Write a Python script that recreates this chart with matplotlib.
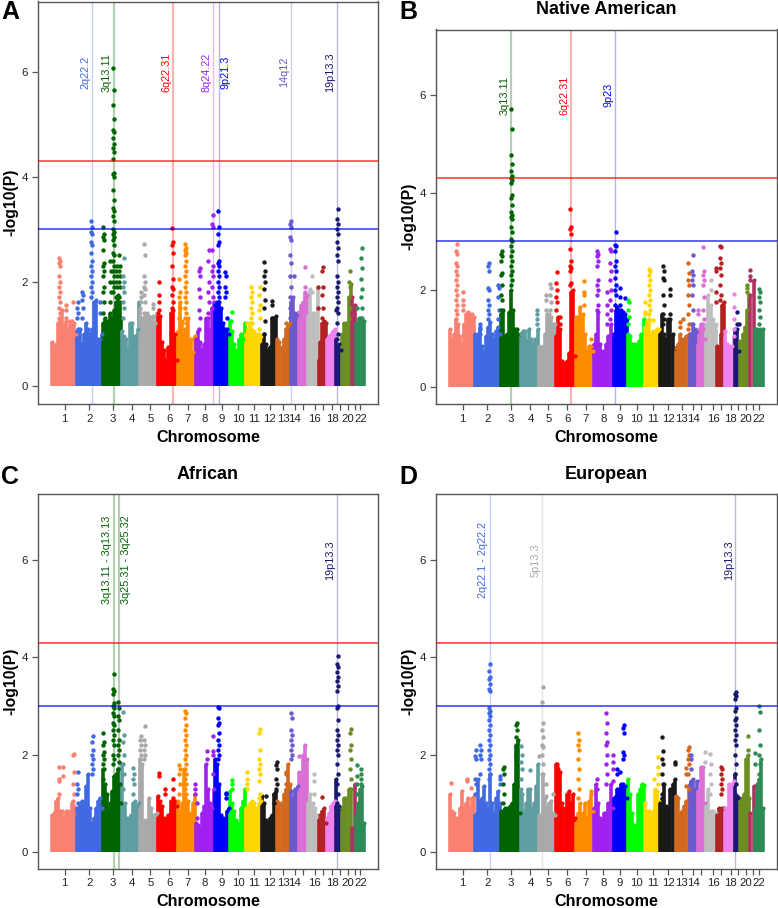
import matplotlib
matplotlib.use('Agg')
import matplotlib.pyplot as plt
import numpy as np

plt.rcParams['font.family'] = ['Liberation Sans', 'DejaVu Sans']

chrom_names = ['1', '2', '3', '4', '5', '6', '7', '8', '9', '10', '11', '12', '13', '14', '15', '16', '17', '18', '19', '20', '21', '22']
chrom_len = [75, 79, 59, 54, 52, 61, 53, 59, 43, 50, 46, 47, 42, 24, 25, 33, 25, 28, 17, 30, 13, 27]
chrom_ticks = [41, 115, 185, 244, 298, 355, 410, 463, 513, 563, 611, 657, 698, 732, 757, 792, 817, 845, 867, 891, 913, 929]
shown_ticks = ['1', '2', '3', '4', '5', '6', '7', '8', '9', '10', '11', '12', '13', '14', '', '16', '', '18', '', '20', '', '22']
chrom_colors = ['salmon', 'royalblue', 'darkgreen', 'cadetblue', 'darkgrey', 'red', 'darkorange', '#A020F0', 'blue', '#00FF00', 'gold',
                '#1A1A1A', 'chocolate', 'slateblue', 'orchid', '#BEBEBE', 'firebrick', 'violet', 'midnightblue', 'olivedrab', '#B03060', 'seagreen']

# dense part of each chromosome, left to right
a_heights = [
    [.85, .75, .8, 1.2, 1.3, 1.45, 1.15, 1.25, 1.1, 1.25, 1.25, 1.2, 1.0],
    [1.05, .9, 1.1, .8, 1.0, 1.2, 1.1, 1.0, 1.1, 1.6, 1.65, .9, .9, 1.0],
    [1.2, 1.3, 1.2, 1.25, 1.4, 1.3, 1.45, 1.6, 1.75, 1.6, 1.3],
    [1.05, .95, .9, .75, 1.2, 1.2, .95, .95, 1.1, 1.6],
    [1.5, 1.3, 1.35, 1.4, 1.35, 1.3, 1.35, 1.2, 1.4],
    [1.4, 1.35, .85, .7, .5, .75, 1.4, 1.45, 1.0, .5],
    [1.05, 1.6, 1.25, 1.0, 1.1, 1.3, .9, .65, .95],
    [.9, 1.05, .85, .7, .8, 1.3, 1.3, 1.1, 1.5, 1.6],
    [1.55, 1.6, 1.6, 1.5, 1.2, 1.1, 1.1, 1.0],
    [1.25, 1.05, .8, .7, .65, .9, 1.0, .9, 1.2],
    [1.0, 1.1, 1.2, 1.0, 1.05, 1.0, 1.0, .95],
    [.8, 1.0, .8, .7, .75, 1.3, 1.3, 1.35],
    [.9, .85, .75, .9, 1.1, 1.15, 1.2],
    [1.6, 1.7, 1.4, 1.3, 1.4],
    [1.3, 1.55, 1.6, 1.8, 1.75],
    [1.35, 1.85, 1.4, 1.4, 1.85],
    [.5, .85, 1.2, 1.25, 1.2],
    [.9, .95, 1.0, 1.05, 1.1],
    [.9, .8, .7],
    [1.0, 1.2, 1.2, 1.7, 1.95],
    [1.7, 1.55],
    [1.2, 1.3, 1.3, 1.25],
]
a_spike_pos = [24, 44, 67, 79, 96, 122, 147, 157, 180, 188, 198, 205, 219, 270, 282, 305, 323, 366, 387, 405, 446, 474, 486, 504, 524, 530, 541, 544,
               588, 601, 627, 642, 664, 707, 720, 730, 745, 762, 784, 802, 816, 855, 859, 896, 918, 932]
a_spike_vals = [
    [1.3, 1.4, 1.5, 1.6, 1.7, 1.8, 1.9, 2.0, 2.1, 2.3, 2.35, 2.4, 2.45], [1.3, 1.45, 1.55], [1.6],
    [.9, 1.1, 1.3, 1.4, 1.5, 1.6], [1.3, 1.5, 1.65, 1.75, 1.8],
    [1.7, 1.8, 1.9, 2.0, 2.1, 2.2, 2.3, 2.4, 2.55, 2.7, 2.75, 2.9, 2.95, 3.05, 3.15], [1.4, 1.6],
    [1.4, 1.6, 1.8, 1.9, 2.1, 2.2, 2.3, 2.35, 2.6, 2.8, 2.85, 2.9, 3.05],
    [1.6, 1.8, 2.0, 2.2, 2.4],
    [1.8, 1.9, 2.0, 2.1, 2.2, 2.3, 2.4, 2.5, 2.55, 2.7, 2.8, 2.85, 2.9, 2.95, 3.0, 3.15, 3.25, 3.35, 3.4, 3.55, 3.75, 4.0, 4.05, 4.08, 4.35, 4.48, 4.55,
     4.62, 4.75, 4.85, 4.9, 5.1, 5.38, 5.65, 6.07],
    [1.7, 1.9, 2.0, 2.1, 2.2, 2.3],
    [1.7, 1.9, 2.0, 2.1, 2.2, 2.3, 2.5], [1.3, 1.5, 1.6, 1.8, 1.9, 2.0, 2.1, 2.45], [1.6, 1.7, 1.8],
    [1.4, 1.6, 1.75, 1.85, 1.9, 2.0, 2.1, 2.5, 2.72], [1.5, 1.58], [1.45, 1.6, 1.75, 2.0],
    [1.5, 1.6, 1.75, 1.85, 1.9, 2.05, 2.3, 2.55, 2.7, 2.75, 3.03], [1.3, 1.5, 1.7, 1.8, 2.05],
    [1.1, 1.2, 1.3, 1.4, 1.5, 1.6, 1.7, 1.8, 1.9, 2.0, 2.1, 2.2, 2.3, 2.4, 2.5, 2.55, 2.6, 2.65, 2.72],
    [1.1, 1.3, 1.45, 1.7, 1.85, 2.1, 2.2, 2.25], [1.4, 1.6, 1.8, 2.0, 2.4, 2.6],
    [1.5, 1.7, 1.9, 2.1, 2.2, 2.3, 2.6, 3.05, 3.1, 3.28],
    [1.6, 1.7, 1.8, 1.9, 2.0, 2.1, 2.2, 2.3, 2.35, 2.4, 2.7, 2.75, 2.9, 3.05, 3.35], [1.7, 1.8, 1.9, 2.1, 2.18], [1.3], [1.25], [1.42],
    [1.2], [1.1, 1.2, 1.3, 1.4, 1.5, 1.6, 1.7, 1.8, 1.9], [1.1, 1.3, 1.45, 1.55, 1.75, 1.9],
    [1.0, 1.25, 1.5, 1.65, 1.85, 2.0, 2.1, 2.2, 2.38], [1.3, 1.55, 1.62], [1.1, 1.2],
    [1.3, 1.4, 1.5, 1.6, 1.7, 1.9, 2.1, 2.35, 2.5, 2.8, 2.85, 3.05, 3.1, 3.15], [2.1], [1.42], [1.9, 2.28], [1.8, 2.1], [1.5, 1.9],
    [1.3, 1.5, 1.75, 1.9, 2.2, 2.28], [1.45],
    [.9, 1.0, 1.2, 1.4, 1.5, 1.6, 1.7, 1.8, 1.9, 2.0, 2.1, 2.4, 2.5, 2.65, 2.75, 2.9, 3.0, 3.1, 3.2, 3.38],
    [1.3, 1.5, 1.7, 1.9, 2.0, 2.2], [1.5], [1.3, 1.5, 1.7, 1.85, 2.05, 2.25, 2.45, 2.65],
]

b_heights = [
    [1.2, 1.0, 1.1, 1.4, 1.3, 1.05, .9, 1.3, 1.5, 1.55, 1.5, 1.5, 1.45],
    [1.1, .85, 1.1, 1.25, .85, .75, 1.05, 1.25, 1.35, 1.1, 1.0, 1.15, 1.25, 1.1],
    [1.5, 1.6, 1.05, 1.1, 1.55, 2.0, 1.6, 1.2, 1.2, 1.1],
    [1.1, 1.15, 1.15, .95, 1.2, 1.0, .9, 1.0, 1.2],
    [.85, .8, .85, 1.1, 1.5, 1.5, 1.45, 1.3, 1.3],
    [1.05, 1.45, 1.2, .55, .5, .55, .7, 1.95, 2.0, .65],
    [1.45, 1.45, 1.65, 1.5, 1.1, .75, .85, .85, .75],
    [.9, 1.1, 1.55, .9, .75, .7, .9, 1.05, 1.3, 1.1],
    [1.1, 1.6, 1.65, 1.6, 1.6, 1.55, 1.5, 1.4],
    [1.1, 1.05, .9, .9, .85, .95, 1.1, 1.4],
    [1.25, 1.35, 1.4, 1.05, 1.15, 1.15, 1.2, 1.2],
    [1.1, 1.5, 1.1, 1.0, 1.4, 1.4, 1.1, .8],
    [.8, .9, 1.1, 1.0, 1.0, 1.05, 1.1],
    [1.1, 1.1, 1.3, 1.2, 1.15],
    [.9, 1.2, 1.3, 1.3, 1.0],
    [1.3, 1.9, 1.7, 1.4, 1.3],
    [.85, .8, 1.1, 1.7, 1.75],
    [1.15, .9, .85, .85, 1.05],
    [1.2, 1.2, .75],
    [.95, 1.1, 1.25, 1.6, 1.9],
    [1.9, 2.2],
    [1.2, 1.2, 1.2, 1.2],
]
b_spike_pos = [23, 43, 94, 118, 147, 156, 187, 264, 292, 304, 322, 332, 365, 406, 425, 445, 473, 485, 499, 514, 529, 539, 587, 600, 613, 642, 662,
               692, 702, 719, 730, 747, 762, 785, 802, 815, 854, 863, 870, 895, 903, 932]
b_spike_vals = [
    [1.4, 1.5, 1.6, 1.7, 1.8, 1.9, 2.0, 2.1, 2.2, 2.3, 2.4, 2.5, 2.55, 2.75, 2.8, 2.95], [1.6, 1.7, 1.8, 1.95], [1.1, 1.2, 1.3],
    [1.4, 1.5, 1.6, 1.7, 1.8, 2.0, 2.05, 2.4, 2.5, 2.55], [1.4, 1.6, 1.85, 2.05, 2.1],
    [1.6, 1.8, 1.9, 2.1, 2.3, 2.35, 2.6, 2.7, 2.75, 2.8],
    [2.1, 2.2, 2.3, 2.4, 2.5, 2.6, 2.7, 2.8, 2.9, 3.0, 3.05, 3.2, 3.3, 3.45, 3.5, 3.55, 3.6, 3.75, 3.9, 3.95, 4.2, 4.25, 4.3, 4.35, 4.45, 4.58, 4.78, 5.3, 5.72],
    [1.3, 1.4, 1.5, 1.58], [1.6, 1.8, 1.9], [1.6, 1.75, 1.9, 2.05, 2.12], [1.6, 1.75, 1.85, 2.0, 2.15, 2.38], [1.3, 1.45],
    [2.1, 2.15, 2.4, 2.45, 2.5, 2.6, 2.85, 3.15, 3.25, 3.3, 3.66], [1.7, 1.9, 1.95, 2.18], [1.0],
    [1.6, 1.7, 1.9, 2.0, 2.1, 2.2, 2.5, 2.6, 2.7, 2.75, 2.8], [1.3, 1.5, 1.7, 1.95], [1.4, 1.6, 1.8, 2.0, 2.2, 2.4, 2.55, 2.8, 2.85],
    [1.7, 1.9, 2.0, 2.1, 2.25, 2.4, 2.5, 2.6, 2.8, 2.9, 2.92, 3.2], [1.7, 1.85, 2.05], [1.83], [1.3, 1.45, 1.6, 1.75, 1.8], [1.5, 1.55, 1.75],
    [1.5, 1.6, 1.7, 1.8, 1.9, 2.0, 2.1, 2.2, 2.3, 2.4, 2.43], [1.38], [1.3, 1.4, 1.5, 1.7, 1.9, 2.2, 2.25, 2.4, 2.5], [1.5, 1.9, 2.02],
    [1.25, 1.35], [1.4], [1.2, 1.3, 1.5, 1.7, 1.9, 2.1, 2.2, 2.35, 2.55], [1.3, 1.6, 1.9, 2.1, 2.2, 2.3, 2.4, 2.72], [1.5, 1.6],
    [1.2, 1.4, 1.6, 1.85, 2.1, 2.2, 2.3, 2.4, 2.88], [2.0, 2.2], [1.75, 1.95, 2.4, 2.45], [1.8, 1.9, 2.1, 2.3, 2.45, 2.55, 2.65, 2.88, 2.9],
    [1.2, 1.4, 1.65, 1.92], [1.3, 1.55], [1.3], [1.95, 2.05, 2.1], [2.2, 2.28, 2.42], [1.3, 1.45, 1.6, 1.75, 1.85, 1.95, 2.02],
]

c_heights = [
    [.75, .8, 1.05, 1.1, .85, .85, .7, .85, .85, .8, 1.0, .95, .8],
    [.9, .7, .95, 1.05, 1.0, 1.35, 1.6, .9, .6, .7, .9, 1.05, 1.1, .9],
    [1.7, 1.4, 1.2, .8, 1.0, 1.25, 1.55, 1.6, 1.7, 1.4, 1.0],
    [1.8, 1.0, .7, .7, .75, 1.0, 1.05, .95, 1.0],
    [1.9, 1.8, .65, .6, 1.1, .9, .75, .75, .8],
    [1.15, 1.05, .95, .7, .65, .75, 1.05, 1.05, 1.05, .95],
    [1.05, .85, 1.0, 1.7, 1.05, 1.05, .8, 1.0, 1.2],
    [.6, .55, .5, .8, .95, 1.8, 1.3, 1.0, .9, 1.3],
    [1.9, 1.8, 1.4, .75, .7, .65, .85, .9],
    [1.25, 1.0, .85, .65, .55, .6, .9, 1.05, 1.3],
    [.9, .95, 1.0, 1.05, 1.0, .9, 1.0, 1.05],
    [1.15, 1.0, .65, .6, .7, .75, 1.2, 1.25],
    [1.05, 1.0, 1.0, 1.2, 1.3, 1.8, 1.4],
    [1.25, 1.1, 1.3, 1.3, 1.35],
    [1.65, 1.6, 2.0, 2.2, 1.9],
    [1.0, 1.2, 1.0, .9, .75],
    [.65, .75, .85, .9, .6],
    [.7, .8, .95, 1.0, 1.05],
    [1.5, .95, .9],
    [.9, 1.1, 1.1, 1.3, 1.3],
    [.5, 1.4],
    [.75, 1.0, 1.3, 1.35, .6],
]
c_spike_pos = [24, 37, 67, 79, 124, 157, 188, 204, 219, 248, 270, 281, 324, 342, 367, 386, 405, 433, 437, 467, 486, 503, 527, 544, 588, 627, 645, 669,
               677, 707, 721, 745, 790, 813, 859, 898, 918, 932]
c_spike_vals = [
    [1.2, 1.45, 1.5, 1.75], [1.55, 1.75], [1.05, 1.2, 1.4, 1.65, 2.0, 2.02], [.8, 1.0, 1.2, 1.3, 1.4, 1.65],
    [1.6, 1.7, 1.8, 1.9, 2.0, 2.1, 2.25, 2.38], [1.5, 1.7, 1.8, 1.9, 2.0, 2.05, 2.2, 2.25, 2.45],
    [1.8, 1.9, 2.0, 2.2, 2.3, 2.4, 2.5, 2.6, 2.65, 2.8, 2.85, 2.95, 3.0, 3.05, 3.25, 3.3, 3.35, 3.65],
    [1.7, 1.85, 2.0, 2.1, 2.2, 2.3, 2.5, 2.7, 2.8, 2.95, 3.08], [1.3, 1.6, 1.8, 2.0, 2.25, 2.4, 2.87], [1.2, 1.4, 1.5, 1.6, 1.72],
    [1.9, 2.0, 2.1, 2.2, 2.3, 2.38], [1.9, 2.0, 2.1, 2.2, 2.3, 2.58], [1.55, 1.62], [1.2, 1.3], [1.1, 1.3, 1.5], [1.2, 1.4, 1.6, 1.7, 1.78],
    [1.1, 1.2, 1.3, 1.4, 1.5, 1.6, 1.7, 1.8, 1.9, 2.0, 2.1, 2.2, 2.3, 2.4, 2.5, 2.6, 2.75, 2.85, 2.9], [1.2, 1.3, 1.4], [.7, 1.0], [1.9, 2.08],
    [1.6, 2.0, 2.08, 2.38], [1.9, 2.0, 2.1, 2.2, 2.3, 2.45, 2.6, 2.65, 2.75, 2.95, 2.97], [1.1, 1.2, 1.22], [1.3, 1.4, 1.48], [1.3, 1.4, 1.5, 1.65],
    [1.1, 1.2, 1.45, 1.6, 1.7, 1.8, 1.9, 2.1, 2.45, 2.52], [1.15], [1.0, 1.2], [1.3, 1.4, 1.5, 1.7, 1.78, 1.85], [1.2, 1.4, 1.6, 1.65],
    [1.9, 2.0, 2.1, 2.2, 2.3, 2.4, 2.5, 2.75, 2.85], [1.98], [1.2, 1.45, 1.6], [1.12],
    [1.0, 1.2, 1.4, 1.6, 1.8, 2.0, 2.1, 2.2, 2.3, 2.4, 2.5, 2.7, 2.95, 3.0, 3.3, 3.4, 3.5, 3.6, 3.7, 3.8, 3.85, 4.03],
    [1.3, 1.5, 1.7, 1.9, 2.1, 2.2, 2.45, 2.52], [1.2, 1.4, 1.55, 1.78], [1.4, 1.5, 1.6, 1.7],
]

d_heights = [
    [1.2, .85, .8, .7, .7, .9, 1.25, .9, 1.0, 1.1, .9, 1.1, 1.15],
    [.75, .8, 1.5, 1.05, 1.1, 1.35, 1.0, .9, 1.6, 1.0, .8, 1.1, 1.25, 1.0],
    [.85, .85, .9, .85, .9, .95, 1.0, 1.4, 2.2, 2.3, .8],
    [1.3, 1.2, .85, 1.0, 1.3, 1.3, .9, 1.0, 1.35, 1.8],
    [.75, .75, 1.6, 1.1, .9, 1.0, 1.05, .8, .75],
    [1.8, 1.7, 1.65, 1.0, .9, 1.2, 1.25, 1.0, 1.2, .7],
    [.6, .8, 1.0, .8, 1.0, .7, 1.05, 1.2, .85],
    [.9, 1.4, 1.0, .7, .65, .8, .8, 1.0, 1.4, .9],
    [1.1, 1.15, 1.3, 1.3, 1.4, 1.4, 1.35, 1.1],
    [1.5, 1.2, .8, .55, .5, 1.2, 1.3, 1.4, 1.38],
    [1.0, .85, .85, .7, .85, 1.3, 1.25, 1.05],
    [1.0, 1.1, 1.4, .95, .9, 1.3, 1.4, 1.5],
    [1.15, 1.1, .8, .85, .95, 1.05, 1.3],
    [1.4, 1.45, 1.5, 1.3, 1.45],
    [1.25, 1.2, 1.75, 1.75, 1.0],
    [.95, 1.3, .85, .85, .8],
    [.75, .9, .9, .9],
    [.9, .9, 1.4, 1.4, 1.45],
    [1.6, 1.15, 1.1],
    [1.05, 1.1, 1.2, 1.9, 2.0, 1.1],
    [.8, 1.35],
    [.9, 1.4, 1.5, 1.9, .9],
]
d_spike_pos = [5, 54, 67, 79, 94, 122, 152, 163, 203, 218, 243, 270, 280, 292, 312, 324, 387, 427, 445, 472, 491, 504, 514, 524, 615, 627, 641, 677,
               712, 717, 725, 769, 784, 817, 859, 896, 917, 931]
d_spike_vals = [
    [1.42], [1.45, 1.5], [1.32], [1.2, 1.4, 1.5, 1.9, 1.98, 2.1], [1.6, 1.9, 2.0, 2.1, 2.2],
    [1.5, 1.6, 1.7, 1.8, 1.9, 2.0, 2.1, 2.2, 2.3, 2.4, 2.5, 2.6, 2.7, 2.8, 2.85, 2.9, 2.95, 3.3, 3.35, 3.45, 3.55, 3.6, 3.72, 3.85], [1.4, 1.5, 1.55],
    [1.0, 1.2, 1.4, 1.6, 1.7, 1.75], [2.0, 2.2, 2.35, 2.5, 2.6, 2.65], [1.5, 1.7, 1.85, 2.0, 2.18], [1.68], [1.98],
    [1.6, 1.8, 2.0, 2.15, 2.2, 2.35, 2.5, 2.65, 3.08, 3.38], [1.15, 1.4], [1.2], [1.7, 1.75, 1.8], [1.1, 1.3, 1.5, 1.7, 1.9, 2.1, 2.2, 2.3, 2.45], [1.25],
    [1.3, 1.5], [1.4, 1.6, 1.8, 2.0, 2.2, 2.25, 2.45, 2.65, 2.85], [1.45, 1.7, 1.85, 2.0], [1.6, 1.7], [1.65], [1.9, 2.0, 2.05, 2.45, 2.55, 2.6], [1.5],
    [1.4, 1.6, 1.75, 1.95], [1.2, 1.4, 1.6, 1.8, 1.9, 2.08, 2.35], [1.8, 1.85], [1.35, 1.6, 1.72], [1.6, 1.8, 1.9, 2.0, 2.1, 2.15], [1.7, 1.9, 2.0],
    [1.85, 2.05], [1.2, 1.4, 1.6, 1.8, 2.02], [1.2, 1.3, 1.4, 1.5, 1.6, 1.7, 1.75],
    [1.2, 1.4, 1.6, 1.8, 2.0, 2.2, 2.3, 2.4, 2.5, 2.6, 2.7, 2.75, 2.9, 2.95, 3.15, 3.2, 3.25, 3.28], [2.1, 2.38], [1.8, 2.03],
    [1.6, 1.8, 2.0, 2.2, 2.5, 2.87, 3.0],
]

# cytoband labels: name, position, side of the line
a_loci = [('2q22.2', 124, 'l'), ('3q13.11', 188, 'l'), ('6q22.31', 366, 'l'), ('8q24.22', 487, 'l'), ('9p21.3', 504, 'r'), ('14q12', 721, 'l'), ('19p13.3', 859, 'l')]
b_loci = [('3q13.11', 187, 'l'), ('6q22.31', 365, 'l'), ('9p23', 499, 'l')]
c_loci = [('3q13.11 - 3q13.13', 188, 'l'), ('3q25.31 - 3q25.32', 204, 'r'), ('19p13.3', 859, 'l')]
d_loci = [('2q22.1 - 2q22.2', 123, 'l'), ('5p13.3', 280, 'l'), ('19p13.3', 859, 'l')]

edges = np.concatenate([[0], np.cumsum(chrom_len)])
total = edges[-1]
W, H = 778, 908

fig = plt.figure(figsize=(W / 100, H / 100), dpi=100)


def draw_panel(box, letter, letter_xy, title, heights, spike_pos, spike_vals, loci):
    left, top, right, bottom = box
    ax = fig.add_axes([left / W, 1 - bottom / H, (right - left) / W, (bottom - top) / H])

    # loci lines go under the points
    for name, pos, side in loci:
        idx = np.searchsorted(edges, pos, side='right') - 1
        thick = name.startswith('3q') or name.startswith('6q')
        ax.axvline(pos, color=chrom_colors[idx], alpha=0.3, lw=1.6 if thick else 1.0, zorder=1)
        if side == 'l':
            ax.text(pos - 5, 6, name, rotation=90, ha='right', va='center', color=chrom_colors[idx], fontsize=7.8, zorder=6)
        else:
            ax.text(pos + 6, 6, name, rotation=90, ha='left', va='center', color=chrom_colors[idx], fontsize=7.8, zorder=6)

    for i, hs in enumerate(heights):
        xs = np.linspace(edges[i] + 1.5, edges[i + 1] - 1.5, len(hs))
        ax.vlines(xs, 0, hs, color=chrom_colors[i], lw=2.6, zorder=2)
        ax.scatter(xs, hs, s=9, color=chrom_colors[i], linewidths=0, zorder=3)

    # the tall columns and loose points, tall columns are about two dots wide
    for pos, vals in zip(spike_pos, spike_vals):
        idx = np.searchsorted(edges, pos, side='right') - 1
        xs = [pos] * len(vals)
        if len(vals) >= 5:
            xs = [pos + (1.5 if k % 2 else -1.5) for k in range(len(vals))]
        ax.scatter(xs, vals, s=10, color=chrom_colors[idx], linewidths=0, zorder=4)

    ax.axhline(4.3, color='red', lw=1.1, alpha=0.8, zorder=5)
    ax.axhline(3.0, color='blue', lw=1.1, alpha=0.8, zorder=5)

    ax.set_xlim(-total * 0.0425, total * 1.0425)
    ax.set_ylim(-0.34, 7.35)
    ax.set_xticks(chrom_ticks)
    ax.set_xticklabels(shown_ticks, fontsize=8.2, color='#222222')
    ax.set_yticks([0, 2, 4, 6])
    ax.set_yticklabels(['0', '2', '4', '6'], fontsize=8.2, color='#222222')
    ax.tick_params(axis='both', color='#555555', width=0.9, length=4, pad=3)
    for s in ax.spines.values():
        s.set_color('#555555')
        s.set_linewidth(1.0)
    ax.set_xlabel('Chromosome', fontsize=11.6, fontweight='bold', labelpad=4.5)
    ax.set_ylabel('-log10(P)', fontsize=11.3, fontweight='bold', labelpad=2)

    fig.text(letter_xy[0] / W, 1 - letter_xy[1] / H, letter, fontsize=18, fontweight='bold', ha='left', va='baseline')
    if title:
        fig.text((left + right) / 2 / W, 1 - (top - 15) / H, title, fontsize=13, fontweight='bold', ha='center', va='baseline')


draw_panel((37.7, 1.5, 378, 404), 'A', (1, 19), None, a_heights, a_spike_pos, a_spike_vals, a_loci)
draw_panel((435.7, 29.5, 776.5, 404), 'B', (399, 19), 'Native American', b_heights, b_spike_pos, b_spike_vals, b_loci)
draw_panel((37.7, 494, 378, 868.5), 'C', (1, 484), 'African', c_heights, c_spike_pos, c_spike_vals, c_loci)
draw_panel((435.7, 494, 776.5, 868.5), 'D', (399, 484), 'European', d_heights, d_spike_pos, d_spike_vals, d_loci)

fig.savefig('out.png', dpi=100)
